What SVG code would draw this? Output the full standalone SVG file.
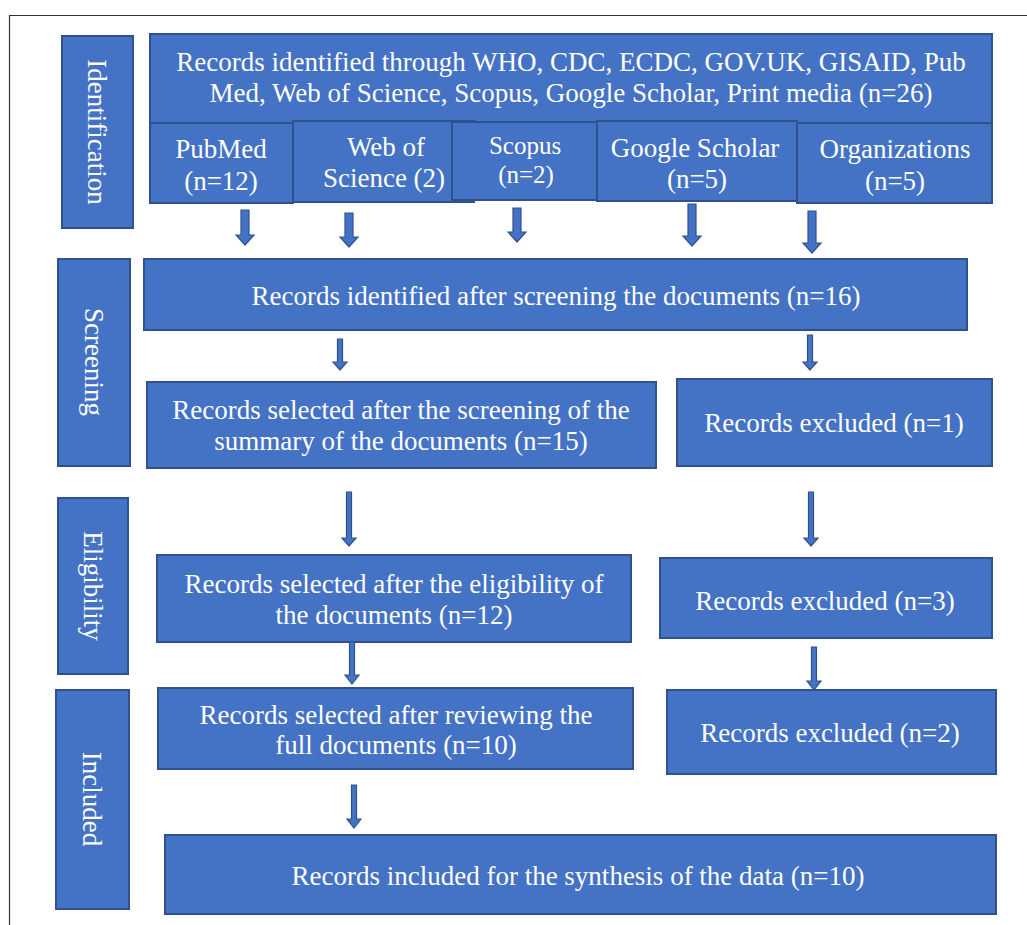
<svg xmlns="http://www.w3.org/2000/svg" width="1027" height="925" viewBox="0 0 1027 925">
<style>
.box{fill:#4472C4;stroke:#2F528F;stroke-width:2}
.t{font-family:"Liberation Serif","Times New Roman",serif;font-size:27px;fill:#FFFFFF;text-anchor:middle;dominant-baseline:central}
.arr{fill:#4472C4;stroke:#2F528F;stroke-width:1.2;stroke-linejoin:miter}
</style>
<rect x="0" y="0" width="1027" height="925" fill="#FFFFFF"/>
<path d="M9.5,925 V15.5 H1027" fill="none" stroke="#333333" stroke-width="1.2"/>

<g id="label-identification">
<rect class="box" x="62" y="36" width="71" height="192"/>
<text class="t" transform="translate(97,132) rotate(90)">Identification</text>
</g>
<g id="label-screening">
<rect class="box" x="58" y="259" width="72" height="207"/>
<text class="t" transform="translate(94,362) rotate(90)">Screening</text>
</g>
<g id="label-eligibility">
<rect class="box" x="58" y="498" width="70" height="176"/>
<text class="t" transform="translate(93,586) rotate(90)">Eligibility</text>
</g>
<g id="label-included">
<rect class="box" x="56" y="690" width="73" height="219"/>
<text class="t" transform="translate(92,799) rotate(90)">Included</text>
</g>

<g id="node-identified">
<rect class="box" x="150" y="34" width="842" height="89"/>
<text class="t" x="571" y="62">Records identified through WHO, CDC, ECDC, GOV.UK, GISAID, Pub</text>
<text class="t" x="571" y="93">Med, Web of Science, Scopus, Google Scholar, Print media (n=26)</text>
</g>
<g id="node-pubmed">
<rect class="box" x="150" y="123" width="143" height="80"/>
<text class="t" x="221" y="149">PubMed</text>
<text class="t" x="221" y="181">(n=12)</text>
</g>
<g id="node-wos">
<rect class="box" x="293" y="121" width="181" height="81"/>
<text class="t" x="386" y="147">Web of</text>
<text class="t" x="384" y="178">Science (2)</text>
</g>
<g id="node-scopus">
<rect class="box" x="452" y="122" width="145" height="78"/>
<text class="t" x="525" y="145" style="font-size:25px">Scopus</text>
<text class="t" x="526" y="174" style="font-size:25px">(n=2)</text>
</g>
<g id="node-google">
<rect class="box" x="597" y="121" width="200" height="80"/>
<text class="t" x="695" y="148">Google Scholar</text>
<text class="t" x="697" y="179">(n=5)</text>
</g>
<g id="node-org">
<rect class="box" x="797" y="123" width="195" height="80"/>
<text class="t" x="895" y="149">Organizations</text>
<text class="t" x="895" y="181">(n=5)</text>
</g>

<g id="node-screened">
<rect class="box" x="144" y="259" width="823" height="71"/>
<text class="t" x="556" y="296">Records identified after screening the documents (n=16)</text>
</g>
<g id="node-selected-summary">
<rect class="box" x="147" y="382" width="509" height="86"/>
<text class="t" x="401" y="410">Records selected after the screening of the</text>
<text class="t" x="401" y="441">summary of the documents (n=15)</text>
</g>
<g id="node-excluded-1">
<rect class="box" x="677" y="379" width="315" height="87"/>
<text class="t" x="834" y="423">Records excluded (n=1)</text>
</g>

<g id="node-eligibility">
<rect class="box" x="157" y="555" width="474" height="87"/>
<text class="t" x="394" y="584">Records selected after the eligibility of</text>
<text class="t" x="394" y="615">the documents (n=12)</text>
</g>
<g id="node-excluded-3">
<rect class="box" x="660" y="558" width="332" height="80"/>
<text class="t" x="825" y="601">Records excluded (n=3)</text>
</g>

<g id="node-reviewed">
<rect class="box" x="158" y="688" width="475" height="81"/>
<text class="t" x="396" y="715">Records selected after reviewing the</text>
<text class="t" x="396" y="745">full documents (n=10)</text>
</g>
<g id="node-excluded-2">
<rect class="box" x="667" y="690" width="329" height="84"/>
<text class="t" x="830" y="733">Records excluded (n=2)</text>
</g>

<g id="node-included">
<rect class="box" x="165" y="835" width="831" height="79"/>
<text class="t" x="578" y="876">Records included for the synthesis of the data (n=10)</text>
</g>

<g id="connectors">
<polygon class="arr" points="241,210 249,210 249,235 254,235 245,245 236,235 241,235"/>
<polygon class="arr" points="345,213 353,213 353,237 358,237 349,247 340,237 345,237"/>
<polygon class="arr" points="513,208 521,208 521,232 526,232 517,242 508,232 513,232"/>
<polygon class="arr" points="688,204 696,204 696,236 701,236 692,246 683,236 688,236"/>
<polygon class="arr" points="808,211 816,211 816,243 821,243 812,253 803,243 808,243"/>

<polygon class="arr" points="337.5,339 342.5,339 342.5,362 347,362 340,370 333,362 337.5,362"/>
<polygon class="arr" points="807.5,335 812.5,335 812.5,362 817,362 810,370 803,362 807.5,362"/>

<polygon class="arr" points="346.5,492 351.5,492 351.5,538 356,538 349,546 342,538 346.5,538"/>
<polygon class="arr" points="808.5,492 813.5,492 813.5,538 818,538 811,546 804,538 808.5,538"/>

<polygon class="arr" points="349.5,642 354.5,642 354.5,675 359,675 352,684 345,675 349.5,675"/>
<polygon class="arr" points="811.5,647 816.5,647 816.5,681 821,681 814,690 807,681 811.5,681"/>

<polygon class="arr" points="351.5,785 356.5,785 356.5,819 361,819 354,828 347,819 351.5,819"/>
</g>
</svg>
